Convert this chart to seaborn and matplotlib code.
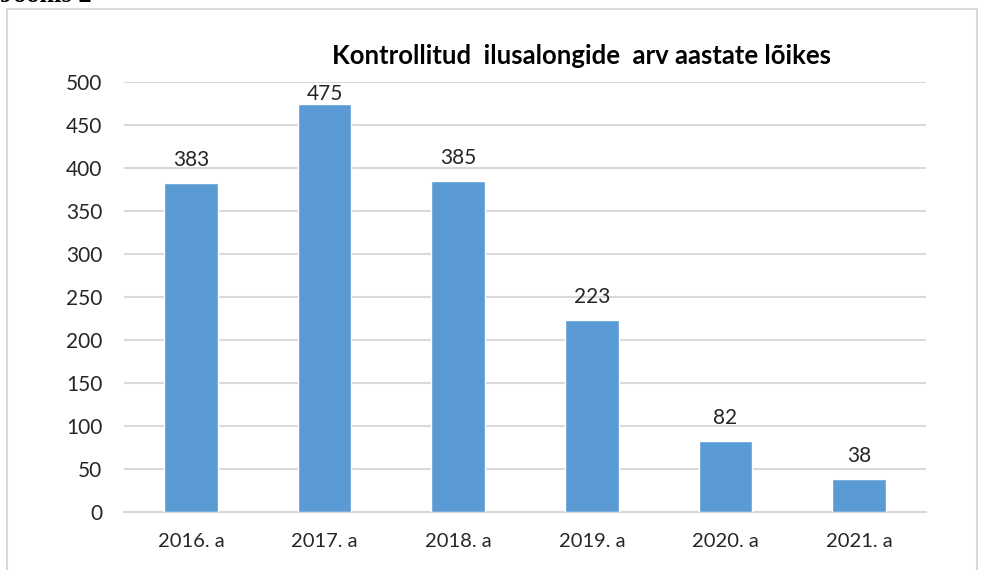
import matplotlib
matplotlib.use("Agg")
import matplotlib.pyplot as plt
import seaborn as sns
import pandas as pd
import numpy as np
from matplotlib.patches import Rectangle

categories = ["2016. a", "2017. a", "2018. a", "2019. a", "2020. a", "2021. a"]
values = [383, 475, 385, 223, 82, 38]
yticks = [0, 50, 100, 150, 200, 250, 300, 350, 400, 450, 500]
title = "Kontrollitud  ilusalongide  arv aastate lõikes"

sns.set_theme(style="white")
plt.rcParams['font.family'] = ['Lato', 'DejaVu Sans']

df = pd.DataFrame({"aasta": categories, "arv": values})

fig = plt.figure(figsize=(9.81, 5.70), dpi=100)
ax = fig.add_axes([124/981, 1-512/570, (926-124)/981, (512-82)/570])

sns.barplot(data=df, x="aasta", y="arv", color="#5b9bd5", saturation=1,
            width=0.4, ax=ax, zorder=3)

ymax = 500
ax.set_ylim(0, ymax)
ax.set_xlim(-0.5, len(categories)-0.5)
ax.set_yticks(yticks)
ax.set_yticklabels([str(t) for t in yticks], fontsize=15, color="#262626")
ax.yaxis.grid(True, color="#d9d9d9", linewidth=1.5, zorder=0)
ax.set_axisbelow(True)
ax.set_xlabel("")
ax.set_ylabel("")
for s in ["top", "right", "left"]:
    ax.spines[s].set_visible(False)
ax.spines["bottom"].set_color("#d9d9d9")
ax.spines["bottom"].set_linewidth(1.5)
ax.tick_params(axis="y", length=0, pad=15.5)
ax.tick_params(axis="x", which="major", length=0, pad=15, labelsize=14.5, labelcolor="#262626")
ax.set_xticks(np.arange(-0.5, len(categories), 1.0), minor=True)
ax.tick_params(axis="x", which="minor", length=8, width=1.5, color="#d9d9d9", direction="out")

# data labels: baseline ~17 px above the bar, kept inside the plot area
px_per_unit = (512 - 82) / ymax
for i, v in enumerate(values):
    y = min(v + 17 / px_per_unit, ymax - 18.5 / px_per_unit)
    ax.text(i, y, str(v), ha="center", va="baseline", fontsize=15, color="#262626")

fig.text(582/981, 1-64/570, title, ha="center", va="baseline", fontsize=18.5,
         fontweight="bold", color="#000000")

fig.patches.append(Rectangle((6.5/981, -0.05), (977-6.5)/981, 1.05-9/570,
                             transform=fig.transFigure, fill=False,
                             edgecolor="#d9d9d9", linewidth=1.5))

fig.text(0.0, 1-1.5/570, "Joonis 2", ha="left", va="baseline", fontsize=19,
         fontweight="bold", family="Liberation Serif", color="#000000")

fig.savefig("out.png", dpi=100, facecolor="white")
